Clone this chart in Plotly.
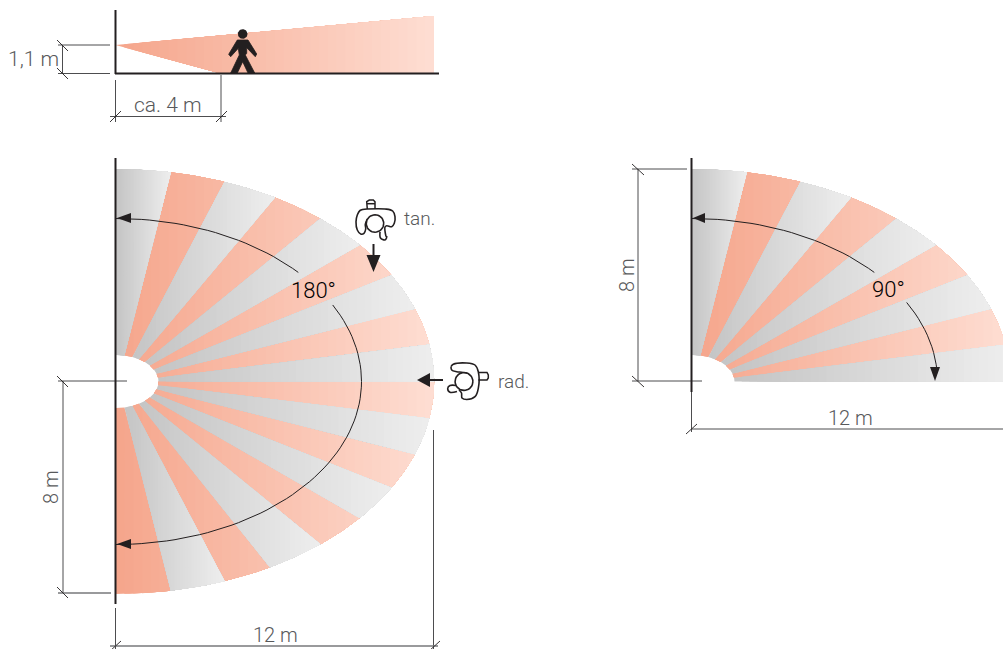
import math
import plotly.graph_objects as go

# ---- data ----
REACH_M = 12
DEPTH_M = 8
PX_PER_M = 26.55
DEAD_A_PX = 43
DEAD_B_PX = 26.5
ARC_A_PX = 246
ARC_B_PX = 163
origin_left = (115.5, 381.5)
origin_right = (691.5, 381.5)

outer_top = [90, 80, 70, 60, 50, 40, 30, 20, 10, 0]
inner_top = [90, 78, 67, 57, 47, 37, 27, 17, 8, 0]
outer_bottom = [0, -10, -20, -30, -40, -50, -61, -70, -80, -90]
inner_bottom = [0, -8, -17, -27, -37, -47, -57, -67, -78, -90]
kinds_top = ["g", "s", "g", "s", "g", "s", "g", "s", "g"]
kinds_bottom = ["s", "g", "s", "g", "s", "g", "s", "g", "s"]

salmon_stops = [(245, 165, 139), (254, 222, 211)]
gray_stops = [(196, 196, 196), (238, 238, 238)]

side_wedge = [(115.5, 45), (434, 16), (434, 73), (219, 73)]

person = [(237.3, 40), (248, 40), (256.7, 54), (255.3, 56.7), (246.7, 47.7), (246.7, 53.3),
          (245.3, 55), (254.7, 73), (248, 73), (242.7, 61.7), (237.3, 73), (230.7, 73),
          (239.3, 55), (238.3, 48.3), (230.7, 56.7), (228.7, 54.3)]
head = (242.7, 34, 4.8)

tan_body = [(367, 209), (360, 210.5), (357.3, 215), (356, 221.7), (357.3, 230), (360.7, 234),
            (364, 233.3), (365.7, 229), (365.3, 224.3), (367.3, 219)]
tan_body2 = [(367, 209), (385, 209), (392.7, 211), (395, 216.7), (394.3, 223.3), (391.7, 226.7),
             (386.7, 225.7), (385, 227), (386, 236.7)]
tan_hand_top = [(367.3, 209), (366.7, 201.7), (369.3, 200), (373.3, 200), (375, 201.7), (375, 209)]
tan_hand_line = [(367, 203.7), (375, 203.7)]
tan_hand_low = [(380, 232), (380.5, 238), (385, 240), (386.5, 238), (386.7, 236)]
tan_head = (375, 223.5, 8.7)

rad_body = [(451, 366.7), (453.3, 364.3), (466.7, 363), (475, 365), (478.3, 371.7), (478.3, 388.3),
            (475, 396.7), (466.7, 399.5), (462, 398), (461.5, 393), (459, 390)]
rad_body2 = [(451, 366.7), (451.7, 370), (456.7, 371.7), (461.7, 372.3), (467, 373.3)]
rad_hand_right = [(478.3, 372.5), (487, 372.5), (488.3, 375), (488.3, 378), (487, 380), (478.3, 380)]
rad_hand_left = [(456.5, 385.5), (450, 385.5), (447.7, 388.5), (450, 392.3), (457, 391.5)]
rad_head = (464, 381.5, 8.9)

thin_dark = [
    [(58, 45), (110, 45)], [(58, 73.5), (110, 73.5)], [(62.5, 45), (62.5, 73.5)],
    [(115.5, 80), (115.5, 122)], [(221, 75), (221, 122)], [(110, 116.5), (226, 116.5)],
    [(58, 381), (127, 381)], [(63, 381), (63, 593)],
    [(115.5, 608), (115.5, 650)], [(433.5, 430), (433.5, 650)],
    [(632, 169), (687, 169)], [(632, 381), (702, 381)], [(638, 169), (638, 381)],
    [(691.5, 392), (691.5, 432)], [(691, 429), (1003, 429)],
]
thin_gray = [[(58, 593), (111, 593)], [(110, 646), (438, 646)]]
slashes = [
    [(57, 40), (68, 51)], [(57, 68), (68, 79)],
    [(110, 122), (121, 111)], [(216, 122), (227, 111)],
    [(57, 376), (68, 387)], [(57, 587), (68, 598)],
    [(110, 651), (121, 641)], [(429, 651), (440, 641)],
    [(632, 164), (644, 175)], [(632, 376), (644, 387)], [(686, 434), (697, 424)],
]
thick = [
    [(115.5, 10), (115.5, 74)], [(115, 73.5), (439, 73.5)],
    [(115.5, 158), (115.5, 604)], [(691.5, 158), (691.5, 392)],
]
arrow_stems = [[(373.5, 244), (373.5, 257)], [(443, 380), (430, 380)]]
arrow_heads = [
    [(117, 218), (131, 213), (131, 223)],
    [(117, 544), (131, 539), (131, 549)],
    [(366.5, 255), (380.5, 255), (373.5, 272)],
    [(430, 373), (430, 387), (417, 380)],
    [(693, 218), (705, 213), (705, 223)],
    [(930, 367), (940, 367), (935, 381)],
]
arc_spans = [(origin_left, 90, 42), (origin_left, 28, -90), (origin_right, 90, 42), (origin_right, 29, 4)]

labels = [
    ("1,1 m", 33, 59, 0, "#58595b", 21), ("ca. 4 m", 168, 105, 0, "#58595b", 21),
    ("tan.", 419, 218, 0, "#58595b", 19), ("rad.", 513, 381, 0, "#58595b", 19),
    ("8 m", 51, 487, -90, "#58595b", 20), ("12 m", 275, 635, 0, "#58595b", 20),
    ("8 m", 627, 275, -90, "#58595b", 20), ("12 m", 850, 418, 0, "#58595b", 20),
    ("180°", 313, 290, 0, "#000000", 22), ("90°", 888, 289, 0, "#000000", 22),
]
STRIPS = 36


# ---- geometry helpers ----
def ell(c, a, b, deg):
    t = math.radians(deg)
    return (c[0] + a * math.cos(t), c[1] - b * math.sin(t))


def wedge(c, o0, o1, i0, i1):
    a, b = REACH_M * PX_PER_M, DEPTH_M * PX_PER_M
    pts = []
    for j in range(7):
        pts.append(ell(c, DEAD_A_PX, DEAD_B_PX, i0 + (i1 - i0) * j / 6))
    for j in range(13):
        pts.append(ell(c, a, b, o1 + (o0 - o1) * j / 12))
    return pts


def clip_right_of(poly, xc):
    out = []
    for k, p in enumerate(poly):
        q = poly[(k + 1) % len(poly)]
        pin, qin = p[0] >= xc, q[0] >= xc
        if pin:
            out.append(p)
        if pin != qin:
            f = (xc - p[0]) / (q[0] - p[0])
            out.append((xc, p[1] + f * (q[1] - p[1])))
    return out


def mix(stops, f):
    return "rgb(%d,%d,%d)" % tuple(round(stops[0][i] + (stops[1][i] - stops[0][i]) * f) for i in range(3))


def xy(pts, close=False):
    p = list(pts) + ([pts[0]] if close else [])
    return [v[0] for v in p], [v[1] for v in p]


fig = go.Figure()


def line(pts, color, width, shape="linear"):
    x, y = xy(pts)
    fig.add_trace(go.Scatter(x=x, y=y, mode="lines", line=dict(color=color, width=width, shape=shape),
                             hoverinfo="skip", showlegend=False))


def fill(pts, color, width=0):
    x, y = xy(pts, True)
    fig.add_trace(go.Scatter(x=x, y=y, mode="lines", fill="toself", fillcolor=color,
                             line=dict(width=width, color=color), hoverinfo="skip", showlegend=False))


def circle(c, fillcolor, linecolor, width):
    pts = [(c[0] + c[2] * math.cos(math.radians(d)), c[1] + c[2] * math.sin(math.radians(d))) for d in range(0, 361, 10)]
    x, y = xy(pts)
    fig.add_trace(go.Scatter(x=x, y=y, mode="lines", fill="toself", fillcolor=fillcolor,
                             line=dict(color=linecolor, width=width), hoverinfo="skip", showlegend=False))


# ---- gradient wedges: painted left to right, one trace per colour level ----
families = {"s": [], "g": []}
for i, k in enumerate(kinds_top):
    for org in (origin_left, origin_right):
        families[k].append((org, wedge(org, outer_top[i], outer_top[i + 1], inner_top[i], inner_top[i + 1])))
for i, k in enumerate(kinds_bottom):
    families[k].append((origin_left, wedge(origin_left, outer_bottom[i], outer_bottom[i + 1], inner_bottom[i], inner_bottom[i + 1])))
families["s"].append((origin_left, side_wedge))

span = REACH_M * PX_PER_M
for key, stops in (("s", salmon_stops), ("g", gray_stops)):
    for lv in range(STRIPS):
        f = lv / STRIPS
        xs, ys = [], []
        for org, poly in families[key]:
            if key == "s":
                # salmon runs across the whole field
                xc = org[0] + f * span
            else:
                # each gray sector runs dark to light over its own width
                lo = min(p[0] for p in poly)
                hi = max(p[0] for p in poly)
                xc = lo + f * (hi - lo)
            part = clip_right_of(poly, xc) if lv else poly
            if len(part) >= 3:
                x, y = xy(part, True)
                xs += x + [None]
                ys += y + [None]
        fig.add_trace(go.Scatter(x=xs, y=ys, mode="lines", fill="toself",
                                 fillcolor=mix(stops, (lv + 0.5) / STRIPS), line=dict(width=0),
                                 hoverinfo="skip", showlegend=False))

# ---- dimension lines ----
for seg in thin_dark:
    line(seg, "#4d4d4f", 1)
for seg in thin_gray:
    line(seg, "#77787b", 1.4)
for seg in slashes:
    line(seg, "#231f20", 0.9)
for seg in thick:
    line(seg, "#231f20", 2)

# ---- coverage arcs ----
for org, d0, d1 in arc_spans:
    n = max(8, int(abs(d0 - d1) / 2))
    pts = [ell(org, ARC_A_PX, ARC_B_PX, d0 + (d1 - d0) * j / n) for j in range(n + 1)]
    line(pts, "#231f20", 1)

for seg in arrow_stems:
    line(seg, "#231f20", 2)
for tri in arrow_heads:
    fill(tri, "#231f20")

# ---- person ----
fill(person, "#231f20", 0.8)
circle(head, "#231f20", "#231f20", 0)

# ---- top-view person icons ----
for path in (tan_body, tan_body2, tan_hand_low, rad_body, rad_body2, rad_hand_left):
    line(path, "#231f20", 1.6, "spline")
for path in (tan_hand_top, tan_hand_line, rad_hand_right):
    line(path, "#231f20", 1.5)
circle(tan_head, "rgba(255,255,255,1)", "#231f20", 1.6)
circle(rad_head, "rgba(255,255,255,1)", "#231f20", 1.6)

for text, x, y, ang, col, size in labels:
    fig.add_annotation(x=x, y=y, xref="x", yref="y", text=text, showarrow=False, textangle=ang,
                       xanchor="center", yanchor="middle",
                       font=dict(family="Roboto", color=col, size=size, weight=300))

fig.update_layout(width=1003, height=649, margin=dict(l=0, r=0, t=0, b=0), autosize=False,
                  paper_bgcolor="white", plot_bgcolor="white", showlegend=False,
                  xaxis=dict(range=[0, 1003], visible=False, fixedrange=True),
                  yaxis=dict(range=[649, 0], visible=False, fixedrange=True))
fig.write_html("out.html", config=dict(displayModeBar=False),
               post_script="document.body.style.margin='0';")
